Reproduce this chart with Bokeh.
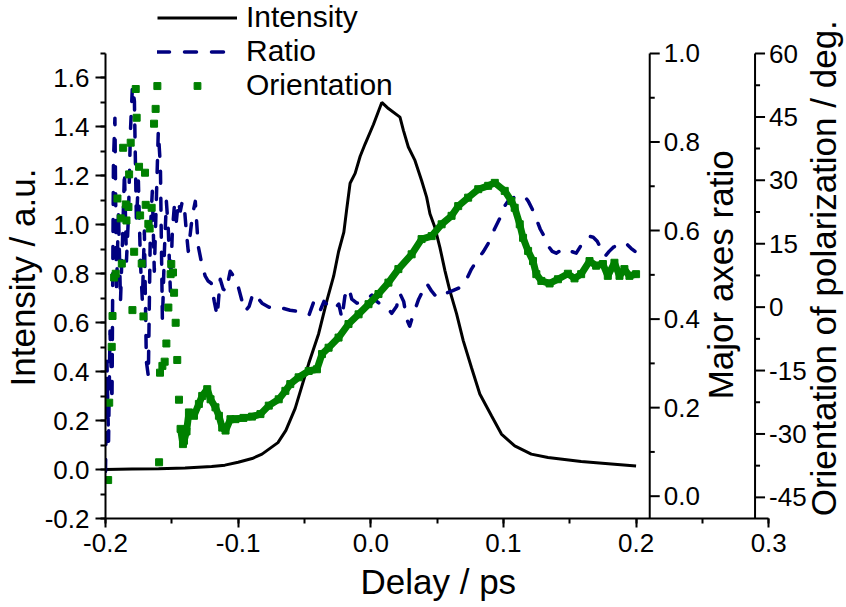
from bokeh.plotting import figure
from bokeh.models import (Range1d, SingleIntervalTicker, PrintfTickFormatter, Title,
                          Legend, LegendItem, LabelSet, Label, ColumnDataSource)
from bokeh.core.properties import value
from bokeh.embed import file_html
from bokeh.resources import INLINE

# ---------------- data ----------------
delay_int = [-0.200, -0.180, -0.160, -0.140, -0.120, -0.110, -0.100, -0.0895, -0.082, -0.070,
             -0.064, -0.057, -0.052, -0.0468, -0.0393, -0.0331, -0.028, -0.0243, -0.0203, -0.018,
             -0.0156, -0.0118, -0.008, -0.0043, 0.002, 0.0083, 0.0133, 0.022, 0.0246, 0.0283,
             0.0333, 0.0383, 0.0421, 0.0446, 0.0483, 0.0521, 0.0559, 0.0596, 0.0647, 0.0697,
             0.0759, 0.0822, 0.091, 0.0985, 0.1085, 0.121, 0.1336, 0.1586, 0.1837, 0.200]
intensity = [0.000, 0.002, 0.003, 0.006, 0.012, 0.018, 0.030, 0.045, 0.063, 0.110,
             0.160, 0.250, 0.340, 0.433, 0.555, 0.690, 0.790, 0.890, 0.970, 1.070,
             1.170, 1.210, 1.280, 1.330, 1.410, 1.500, 1.475, 1.440, 1.386, 1.318,
             1.263, 1.181, 1.113, 1.045, 0.990, 0.908, 0.813, 0.731, 0.636, 0.527,
             0.417, 0.309, 0.220, 0.145, 0.097, 0.063, 0.049, 0.033, 0.022, 0.015]

delay_ratio = [-0.2000, -0.1989, -0.1977, -0.1966, -0.1951, -0.1940, -0.1929, -0.1917, -0.1902, -0.1887,
               -0.1872, -0.1857, -0.1842, -0.1827, -0.1812, -0.1797, -0.1782, -0.1767, -0.1752, -0.1737,
               -0.1722, -0.1707, -0.1692, -0.1677, -0.1662, -0.1647, -0.1632, -0.1617, -0.1602, -0.1586,
               -0.1571, -0.1556, -0.1541, -0.1526, -0.1511, -0.1496, -0.1481, -0.1466, -0.1451, -0.1436,
               -0.1421, -0.1406, -0.1391, -0.1376, -0.1346, -0.1323, -0.1301, -0.1271, -0.1248, -0.1226,
               -0.1203, -0.1180, -0.1158, -0.1135, -0.1113, -0.1090, -0.1060, -0.1030, -0.1000, -0.0970,
               -0.0947, -0.0917, -0.0887, -0.0857, -0.0820, -0.0767, -0.0722, -0.0669, -0.0609, -0.0556,
               -0.0511, -0.0466, -0.0429, -0.0406, -0.0383, -0.0353, -0.0316, -0.0278, -0.0241, -0.0218,
               -0.0195, -0.0165, -0.0143, -0.0105, -0.0068, -0.0030, 0.0008, 0.0045, 0.0083, 0.0120,
               0.0158, 0.0195, 0.0218, 0.0248, 0.0271, 0.0293, 0.0323, 0.0361, 0.0391, 0.0421,
               0.0459, 0.0496, 0.0534, 0.0571, 0.0609, 0.0662, 0.0707, 0.0759, 0.0805, 0.0850,
               0.0895, 0.0932, 0.0970, 0.1008, 0.1045, 0.1083, 0.1120, 0.1158, 0.1188, 0.1218,
               0.1248, 0.1278, 0.1308, 0.1338, 0.1368, 0.1398, 0.1436, 0.1474, 0.1511, 0.1549,
               0.1586, 0.1617, 0.1647, 0.1677, 0.1707, 0.1737, 0.1767, 0.1797, 0.1827, 0.1857,
               0.1887, 0.1925, 0.1962, 0.1992]
ratio = [0.056, 0.305, 0.124, 0.373, 0.215, 0.757, 0.854, 0.463, 0.644, 0.440,
         0.576, 0.734, 0.531, 0.632, 0.824, 0.926, 0.892, 0.621, 0.712, 0.531,
         0.440, 0.599, 0.305, 0.271, 0.599, 0.689, 0.508, 0.666, 0.824, 0.745,
         0.395, 0.553, 0.666, 0.599, 0.463, 0.599, 0.655, 0.621, 0.666, 0.644,
         0.666, 0.655, 0.599, 0.553, 0.632, 0.666, 0.565, 0.520, 0.497, 0.486,
         0.481, 0.440, 0.407, 0.490, 0.468, 0.463, 0.508, 0.495, 0.474, 0.440,
         0.418, 0.429, 0.459, 0.450, 0.436, 0.427, 0.422, 0.425, 0.420, 0.418,
         0.413, 0.409, 0.440, 0.429, 0.418, 0.440, 0.429, 0.422, 0.434, 0.402,
         0.452, 0.470, 0.445, 0.436, 0.440, 0.445, 0.454, 0.440, 0.431, 0.427,
         0.413, 0.429, 0.459, 0.440, 0.400, 0.384, 0.413, 0.445, 0.463, 0.481,
         0.463, 0.450, 0.450, 0.459, 0.463, 0.470, 0.481, 0.513, 0.535, 0.553,
         0.576, 0.603, 0.626, 0.655, 0.671, 0.675, 0.680, 0.678, 0.666, 0.648,
         0.626, 0.603, 0.587, 0.565, 0.553, 0.549, 0.556, 0.560, 0.553, 0.549,
         0.567, 0.581, 0.587, 0.585, 0.576, 0.558, 0.542, 0.553, 0.562, 0.567,
         0.565, 0.571, 0.560, 0.553]

# sparse (noisy) orientation points at early delays
delay_orient_sparse = [-0.1980, -0.1972, -0.1953, -0.1947, -0.1935, -0.1923, -0.1910, -0.1885, -0.1877, -0.1867,
                       -0.1847, -0.1842, -0.1827, -0.1822, -0.1810, -0.1797, -0.1784, -0.1772, -0.1765, -0.1747,
                       -0.1739, -0.1727, -0.1714, -0.1702, -0.1697, -0.1677, -0.1667, -0.1652, -0.1634, -0.1622,
                       -0.1609, -0.1596, -0.1589, -0.1571, -0.1554, -0.1541, -0.1526, -0.1509, -0.1504, -0.1491,
                       -0.1483, -0.1471, -0.1459, -0.1446]
orient_sparse = [-40.9, -22.6, -9.4, -2.1, 7.0, 7.9, 25.7, 21.0, 10.3, 37.7,
                 24.3, 20.5, 23.7, 31.4, 38.9, -0.7, 13.1, 51.6, 44.8, 33.2,
                 21.7, 10.3, -2.2, 31.8, 24.2, 19.7, 18.6, 23.5, 43.4, 46.9,
                 52.3, -36.7, -15.5, -13.9, -12.9, -8.6, -0.1, 7.8, 10.2, 8.2,
                 3.4, -3.7, -12.5, -21.9]

# dense orientation points (appear as a continuous thick trace)
delay_orient_dense = [-0.1434, -0.1416, -0.1408, -0.1389, -0.1371, -0.1333, -0.1296, -0.1271, -0.1233, -0.1208,
                      -0.1171, -0.1145, -0.1120, -0.1095, -0.1058, -0.1020, -0.0960, -0.0895, -0.0832, -0.0769,
                      -0.0694, -0.0644, -0.0607, -0.0544, -0.0468, -0.0406, -0.0368, -0.0318, -0.0243, -0.0168,
                      -0.0092, -0.0017, 0.0058, 0.0133, 0.0208, 0.0308, 0.0383, 0.0459, 0.0534, 0.0609,
                      0.0659, 0.0734, 0.0810, 0.0885, 0.0935, 0.1010, 0.1060, 0.1085, 0.1123, 0.1148,
                      0.1186, 0.1223, 0.1248, 0.1286, 0.1348, 0.1411, 0.1486, 0.1536, 0.1586, 0.1649,
                      0.1699, 0.1750, 0.1787, 0.1837, 0.1875, 0.1912, 0.1950, 0.2000]
orient_dense = [-28.8, -32.4, -31.6, -29.4, -24.9, -25.7, -22.9, -21.0, -19.4, -21.8,
                -23.7, -25.7, -28.5, -29.2, -26.5, -26.5, -26.2, -25.9, -25.3, -23.3,
                -21.8, -19.8, -18.2, -16.6, -15.1, -14.7, -11.1, -9.6, -7.2, -4.0,
                -1.7, 0.7, 3.1, 5.8, 9.0, 12.5, 16.1, 16.8, 19.6, 21.6,
                23.9, 25.9, 27.9, 28.7, 29.4, 27.5, 25.1, 23.5, 19.6, 16.4,
                13.3, 10.9, 7.8, 6.2, 5.6, 6.6, 7.9, 6.8, 7.8, 10.9,
                9.8, 10.2, 7.4, 10.5, 7.4, 9.0, 7.4, 7.8]

ratio_ticks = [0.0, 0.2, 0.4, 0.6, 0.8, 1.0]
ratio_minor = [0.1, 0.3, 0.5, 0.7, 0.9]
orient_ticks = [-45, -30, -15, 0, 15, 30, 45, 60]
orient_minor = [-37.5, -22.5, -7.5, 7.5, 22.5, 37.5, 52.5]

# ---------------- layout / style constants ----------------
FONT = "Liberation Sans"
TICK_FS = "26px"
TITLE_FS = "35px"
# visible axis extents
X_AXIS_BOUNDS = (-0.2, 0.3001)
Y_AXIS_BOUNDS = (-0.2, 1.7001)
RATIO_AXIS = (-0.0504, 1.0)
ORIENT_AXIS = (-50.0, 60.0)
# the drawing frame reaches the top and right edges of the page, so that
# the legend and the offset right-hand axes are not clipped
X_VIEW = (-0.2, 0.35865)
Y_VIEW = (-0.2, 1.91656)
RATIO_VIEW = (-0.0504, 1.11972)
ORIENT_VIEW = (-50.0, 72.538)
RATIO_AXIS_X = 0.2103
ORIENT_AXIS_X = 0.2897

p = figure(width=846, height=607, output_backend="svg", toolbar_location=None,
           x_range=Range1d(*X_VIEW), y_range=Range1d(*Y_VIEW),
           min_border_left=103, min_border_right=0, min_border_top=0, min_border_bottom=89)
p.title.visible = False
p.extra_y_ranges = {"ratio": Range1d(*RATIO_VIEW), "orient": Range1d(*ORIENT_VIEW)}
p.outline_line_color = None
p.grid.visible = False
p.background_fill_color = "white"
p.border_fill_color = "white"

p.xaxis.ticker = SingleIntervalTicker(interval=0.1, num_minor_ticks=2)
p.yaxis.ticker = SingleIntervalTicker(interval=0.2, num_minor_ticks=2)
p.xaxis.formatter = PrintfTickFormatter(format="%.1f")
p.yaxis.formatter = PrintfTickFormatter(format="%.1f")
p.xaxis.bounds = X_AXIS_BOUNDS
p.yaxis.bounds = Y_AXIS_BOUNDS
for ax in (p.xaxis[0], p.yaxis[0]):
    ax.axis_line_width = 2
    ax.axis_line_color = "black"
    ax.major_tick_line_width = 2
    ax.minor_tick_line_width = 2
    ax.major_tick_line_color = "black"
    ax.minor_tick_line_color = "black"
    ax.major_tick_in = 0
    ax.minor_tick_in = 0
    ax.major_tick_out = 9
    ax.minor_tick_out = 5
    ax.major_label_text_font = FONT
    ax.major_label_text_font_size = TICK_FS
    ax.major_label_text_color = "black"
p.xaxis.major_label_standoff = 6
p.yaxis.major_tick_out = 10
p.yaxis.major_label_standoff = 6

# axis titles, placed along the drawn axes (not centred on the enlarged frame)
p.add_layout(Title(text="Delay / ps", align="left", offset=255, standoff=10,
                   text_font=FONT, text_font_size=TITLE_FS, text_font_style="normal",
                   text_color="black"), "below")
p.add_layout(Title(text="Intensity / a.u.", align="left", offset=132, standoff=0,
                   text_font=FONT, text_font_size=TITLE_FS, text_font_style="normal",
                   text_color="black"), "left")

# ---------------- data renderers ----------------
r_int = p.line(delay_int, intensity, line_color="black", line_width=3)
r_ratio = p.line(delay_ratio, ratio, line_color="#000080", line_width=3.5,
                 line_dash="12 15", line_cap="round", line_join="round", y_range_name="ratio")
p.line(delay_orient_dense, orient_dense, line_color="#008000", line_width=7, y_range_name="orient")
r_or = p.scatter(delay_orient_sparse + delay_orient_dense, orient_sparse + orient_dense,
                 marker="square", size=7, color="#008000", y_range_name="orient")

# ---------------- extra (offset) right axes ----------------
def offset_axis(xpos, ext, ticks, minor, labels, range_name):
    p.segment(x0=[xpos], y0=[ext[0]], x1=[xpos], y1=[ext[1]], line_color="black",
              line_width=2, y_range_name=range_name)
    p.ray(x=[xpos] * len(ticks), y=ticks, length=10, length_units="screen", angle=0,
          line_color="black", line_width=2, y_range_name=range_name)
    p.ray(x=[xpos] * len(minor), y=minor, length=5, length_units="screen", angle=0,
          line_color="black", line_width=2, y_range_name=range_name)
    src = ColumnDataSource(dict(x=[xpos] * len(ticks), y=ticks, text=labels))
    p.add_layout(LabelSet(x="x", y="y", text="text", source=src, y_range_name=range_name,
                          x_offset=14, text_baseline="middle", text_align="left",
                          text_font=value(FONT), text_font_size=TICK_FS, text_color="black"))

offset_axis(RATIO_AXIS_X, RATIO_AXIS, ratio_ticks, ratio_minor,
            ["%.1f" % t for t in ratio_ticks], "ratio")
offset_axis(ORIENT_AXIS_X, ORIENT_AXIS, orient_ticks, orient_minor,
            ["%d" % t for t in orient_ticks], "orient")

p.add_layout(Label(x=0.2639, y=0.500, y_range_name="ratio", text="Major axes ratio",
                   angle=90, angle_units="deg", text_align="center", text_baseline="middle",
                   text_font=FONT, text_font_size=TITLE_FS, text_color="black"))
p.add_layout(Label(x=0.3414, y=9.2, y_range_name="orient",
                   text="Orientation of polarization / deg.",
                   angle=90, angle_units="deg", text_align="center", text_baseline="middle",
                   text_font=FONT, text_font_size=TITLE_FS, text_color="black"))

# ---------------- legend ----------------
legend = Legend(items=[LegendItem(label="Intensity", renderers=[r_int]),
                       LegendItem(label="Ratio", renderers=[r_ratio]),
                       LegendItem(label="Orientation", renderers=[r_or])],
                location=(52, 416), orientation="vertical",
                glyph_width=80, glyph_height=17, label_standoff=9, label_height=33,
                spacing=0, padding=0, margin=0,
                label_text_font=FONT, label_text_font_size="30px", label_text_color="black",
                border_line_color=None, background_fill_alpha=0)
p.add_layout(legend)

open("out.html", "w").write(file_html(p, INLINE, "chart"))
